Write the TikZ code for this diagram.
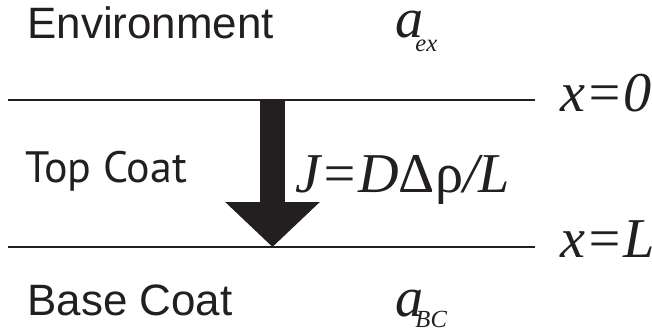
\documentclass[tikz,border=0pt]{standalone}
\usepackage{fontspec}
\setmainfont{Liberation Serif}
\newfontfamily\labelfont{Liberation Sans}
\newfontfamily\coatfont{PT Sans}
\usetikzlibrary{arrows.meta}
\definecolor{ink}{RGB}{35,31,32}

\begin{document}
\begin{tikzpicture}[
    x=0.02cm, y=-0.02cm,
    layer/.style={anchor=base west, inner sep=0pt, text=ink, font=\labelfont\fontsize{25}{25}\selectfont},
    sym/.style={anchor=base west, inner sep=0pt, text=ink, font=\itshape\fontsize{32}{32}\selectfont},
    bound/.style={draw=ink, line width=0.04cm},
    flux/.style={draw=ink, line width=0.5cm, -{Triangle[length=0.9cm, width=1.84cm]}}
]
\useasboundingbox (0,0) rectangle (652,331);

% layer names
\node[layer] (env) at (27,39) {Environment};
\node[layer, font=\coatfont\fontsize{25}{25}\selectfont] (top) at (25,182) {Top Coat};
\node[layer] (base) at (27,315) {Base Coat};

% activities
\node[sym] (aex) at (395,38) {a\kern-0.16cm\raisebox{-0.28cm}{\fontsize{14}{14}\selectfont ex}};
\node[sym] (abc) at (395,316) {a\kern-0.16cm\raisebox{-0.24cm}{\fontsize{14}{14}\selectfont BC}};

% interfaces
\coordinate (s0) at (8,100);
\coordinate (e0) at (535,100);
\coordinate (sL) at (8,247);
\coordinate (eL) at (535,247);
\draw[bound] (s0) -- (e0);
\draw[bound] (sL) -- (eL);
\node[sym] (x0) at (560,112) {x=0};
\node[sym] (xL) at (560,257) {x=L};

% flux arrow
\coordinate (ftop) at (272.5,100);
\coordinate (ftip) at (272.5,247);
\draw[flux] (ftop) -- (ftip);
\node[sym] (law) at (295,192) {J=D{\upshape Δρ}/L};
\end{tikzpicture}
\end{document}
